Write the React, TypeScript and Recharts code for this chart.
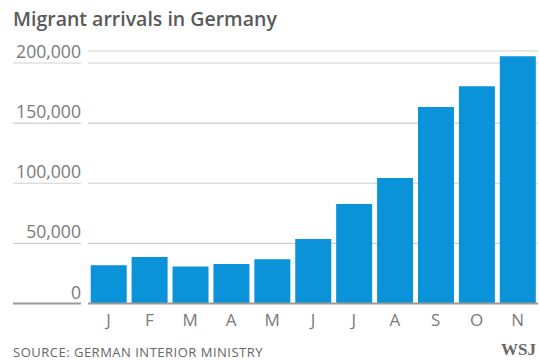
import React from 'react';
import { BarChart, Bar, XAxis, YAxis, CartesianGrid } from 'recharts';

const months = ['J', 'F', 'M', 'A', 'M', 'J', 'J', 'A', 'S', 'O', 'N'];
const arrivals = [31900, 38700, 30800, 32900, 36800, 53700, 82800, 104400, 163400, 180600, 205600];
const yTicks = [0, 50000, 100000, 150000, 200000];
const title = 'Migrant arrivals in Germany';
const source = 'SOURCE: GERMAN INTERIOR MINISTRY';
const credit = 'WSJ';

const data = months.map((m, i) => ({ m, idx: i, v: arrivals[i] }));

const FONT = '"Open Sans", "DejaVu Sans", sans-serif';

const YTick = (props: any) => {
  const { x, y, payload } = props;
  const isZero = payload.value === 0;
  return (
    <g>
      <line
        x1={13}
        x2={x + 1}
        y1={y}
        y2={y}
        stroke={isZero ? '#9a9a9a' : '#cfcfcf'}
        strokeWidth={isZero ? 2 : 1.2}
      />
      <text x={81} y={y - 5} textAnchor="end" fill="#7a7a7a" fontSize={17.6} fontFamily={FONT}>
        {payload.value.toLocaleString('en-US')}
      </text>
    </g>
  );
};

const XTick = (props: any) => {
  const { x, y, payload } = props;
  return (
    <text x={x} y={y + 22.5} textAnchor="middle" fill="#7a7a7a" fontSize={17} fontFamily={FONT}>
      {months[payload.value]}
    </text>
  );
};

export default function App() {
  return (
    <div style={{ position: 'absolute', left: 0, top: 0, width: 539, height: 360, background: '#fff' }}>
      <BarChart
        width={539}
        height={360}
        data={data}
        margin={{ top: 51, right: 1, bottom: 26.5, left: 0 }}
        barCategoryGap="6.6%"
      >
        <CartesianGrid horizontal vertical={false} stroke="#cfcfcf" strokeWidth={1.2} />
        <YAxis
          width={88}
          domain={[0, 210000]}
          ticks={yTicks}
          axisLine={false}
          tickLine={false}
          tick={<YTick />}
          interval={0}
        />
        <XAxis
          dataKey="idx"
          type="category"
          height={30}
          tickLine={false}
          tickSize={0}
          tickMargin={0}
          axisLine={{ stroke: '#9a9a9a', strokeWidth: 2 }}
          tick={<XTick />}
          interval={0}
        />
        <Bar dataKey="v" fill="#0b93d9" isAnimationActive={false} />
      </BarChart>
      <svg
        width={539}
        height={360}
        style={{ position: 'absolute', left: 0, top: 0, pointerEvents: 'none' }}
      >
        <text x={13} y={26} fill="#595959" fontSize={19.5} fontWeight={600} fontFamily={FONT}>
          {title}
        </text>
        <text x={13} y={356.5} fill="#666" fontSize={13} letterSpacing={0.5} fontFamily={FONT}>
          {source}
        </text>
        <text
          x={536}
          y={355}
          textAnchor="end"
          fill="#666"
          fontSize={17}
          fontWeight={700}
          fontFamily='"Liberation Serif", "DejaVu Serif", serif'
        >
          {credit}
        </text>
      </svg>
    </div>
  );
}
